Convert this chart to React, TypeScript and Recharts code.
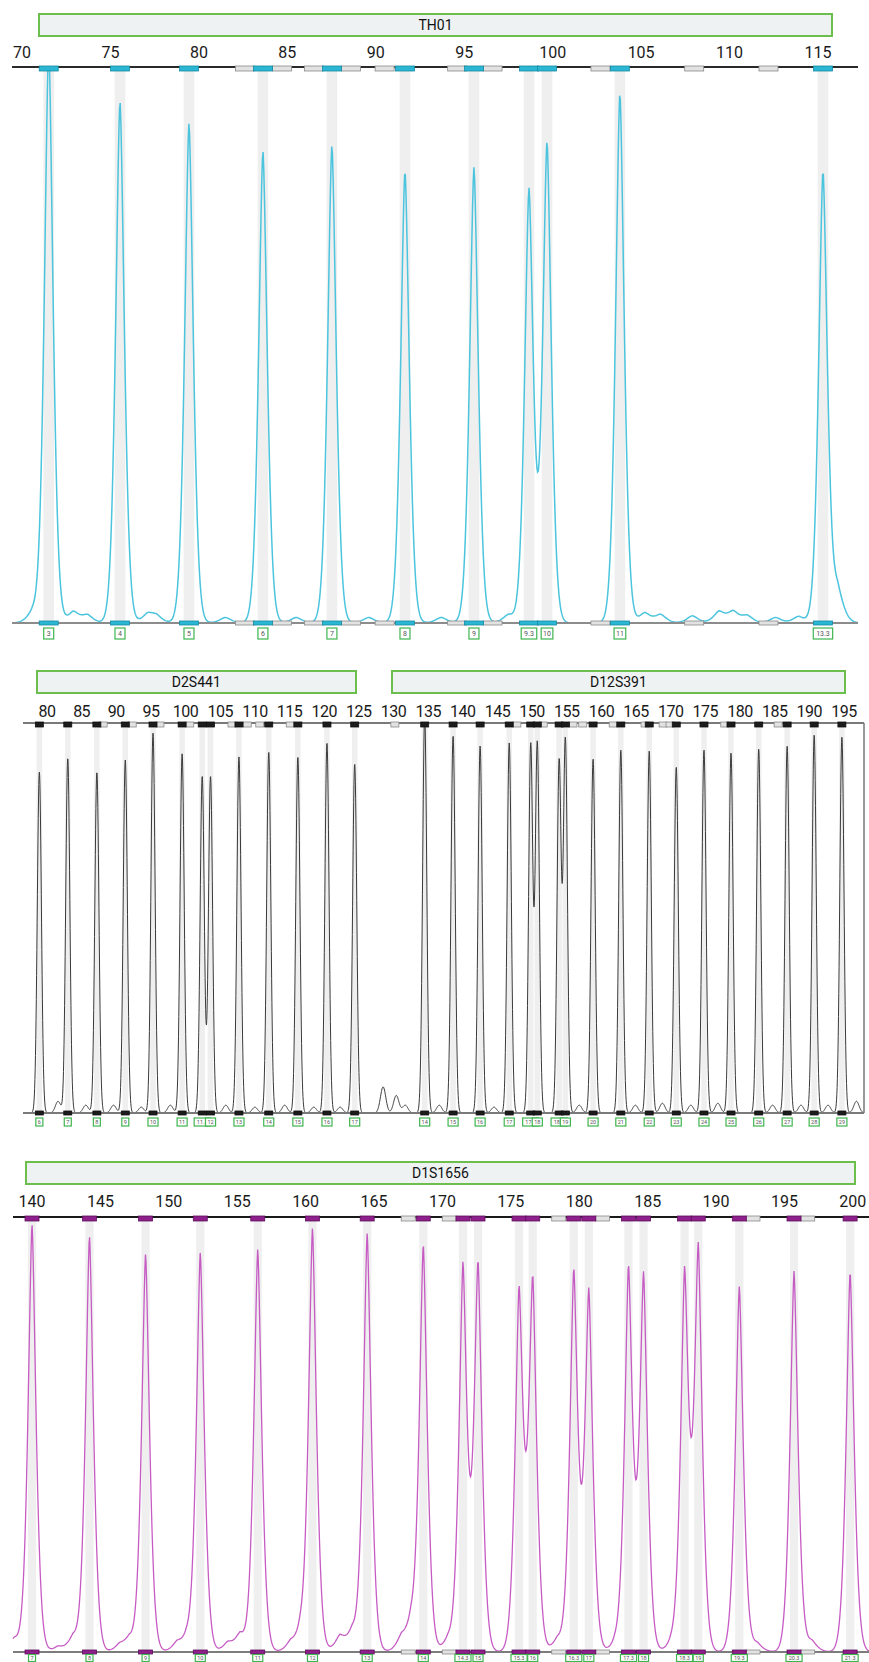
import React from 'react';
import { ComposedChart, Line, XAxis, YAxis, Scatter, ReferenceArea, ReferenceLine } from 'recharts';

// ---------- TH01 (blue dye) ----------
const thTicks = [70, 75, 80, 85, 90, 95, 100, 105, 110, 115];
const thAlleles = ['3', '4', '5', '6', '7', '8', '9', '9.3', '10', '11', '13.3'];
const thSizes = [71.51, 75.54, 79.44, 83.62, 87.52, 91.65, 95.55, 98.66, 99.68, 103.8, 115.28];
const thHeights = [1.04, 0.94, 0.9, 0.85, 0.86, 0.815, 0.82, 0.78, 0.865, 0.955, 0.81];
const thNoiseSizes = [70.6, 72.9, 73.7, 77.1, 77.6, 81.5, 85.5, 89.6, 93.7, 97.5, 105.2, 106.1, 107.9, 109.4, 110.2, 111.0, 112.6, 113.9, 116.1];
const thNoiseHeights = [0.02, 0.02, 0.014, 0.015, 0.012, 0.01, 0.01, 0.01, 0.01, 0.015, 0.018, 0.015, 0.013, 0.02, 0.02, 0.013, 0.01, 0.012, 0.06];
const thVirtualBins = [82.6, 84.7, 86.5, 88.6, 90.5, 94.6, 96.6, 102.7, 108.0, 112.2];
const thMarkerNames = ['TH01'];
const thMarkerRanges = [[70.9, 115.85]];

// ---------- D2S441 / D12S391 (black / yellow dye) ----------
const dTicks = [80, 85, 90, 95, 100, 105, 110, 115, 120, 125, 130, 135, 140, 145, 150, 155, 160, 165, 170, 175, 180, 185, 190, 195];
const dAlleles = ['6', '7', '8', '9', '10', '11', '11.3', '12', '13', '14', '15', '16', '17',
  '14', '15', '16', '17', '17.3', '18', '18.3', '19', '20', '21', '22', '23', '24', '25', '26', '27', '28', '29'];
const dSizes = [78.9, 83.0, 87.2, 91.3, 95.3, 99.5, 102.4, 103.6, 107.7, 112.0, 116.2, 120.4, 124.4,
  134.5, 138.6, 142.5, 146.7, 149.8, 150.75, 153.9, 154.8, 158.8, 162.8, 166.9, 170.8, 174.8, 178.7, 182.7, 186.8, 190.7, 194.7];
const dHeights = [0.874, 0.91, 0.874, 0.905, 0.974, 0.921, 0.864, 0.864, 0.913, 0.926, 0.913, 0.949, 0.895,
  1.02, 0.967, 0.941, 0.949, 0.944, 0.949, 0.9, 0.956, 0.908, 0.931, 0.928, 0.887, 0.931, 0.923, 0.933, 0.941, 0.969, 0.964];
const dNoiseSizes = [81.6, 85.6, 89.6, 93.6, 97.8, 105.8, 110.0, 114.3, 118.5, 122.3, 128.5, 130.4, 131.7, 136.6, 144.5, 156.8, 164.9, 168.8, 172.9, 176.8, 184.7, 188.8, 192.7, 196.8];
const dNoiseHeights = [0.03, 0.02, 0.02, 0.015, 0.02, 0.02, 0.015, 0.02, 0.015, 0.015, 0.067, 0.045, 0.02, 0.02, 0.015, 0.02, 0.02, 0.025, 0.02, 0.025, 0.02, 0.02, 0.02, 0.03];
const dVirtualBins = [88.1, 92.3, 96.3, 100.6, 106.7, 108.9, 110.7, 115.1, 130.2, 147.8, 151.6, 155.9, 157.3, 161.7, 166.3, 168.9, 169.9, 177.8, 185.5];
const dMarkerNames = ['D2S441', 'D12S391'];
const dMarkerRanges = [[78.4, 124.7], [129.6, 195.3]];

// ---------- D1S1656 (magenta dye) ----------
const d1Ticks = [140, 145, 150, 155, 160, 165, 170, 175, 180, 185, 190, 195, 200];
const d1Alleles = ['7', '8', '9', '10', '11', '12', '13', '14', '14.3', '15', '15.3', '16', '16.3', '17', '17.3', '18', '18.3', '19', '19.3', '20.3', '21.3'];
const d1Sizes = [140.0, 144.2, 148.3, 152.3, 156.5, 160.5, 164.5, 168.6, 171.5, 172.6, 175.6, 176.6, 179.6, 180.7, 183.6, 184.7, 187.7, 188.7, 191.7, 195.7, 199.8];
const d1Heights = [0.984, 0.956, 0.915, 0.917, 0.926, 0.97, 0.961, 0.931, 0.883, 0.89, 0.823, 0.848, 0.871, 0.825, 0.878, 0.862, 0.862, 0.92, 0.84, 0.875, 0.875];
const d1NoiseSizes = [138.7, 141.9, 143.0, 146.4, 147.1, 150.6, 151.3, 154.3, 155.2, 158.9, 159.6, 162.5, 163.4, 167.0, 167.7, 170.4, 178.4, 182.6, 186.7, 193.0, 197.0];
const d1NoiseHeights = [0.03, 0.012, 0.035, 0.015, 0.03, 0.02, 0.03, 0.02, 0.04, 0.02, 0.04, 0.035, 0.045, 0.03, 0.06, 0.03, 0.03, 0.02, 0.02, 0.02, 0.025];
const d1VirtualBins = [167.5, 170.5, 178.5, 181.7, 192.7, 196.7];
const d1MarkerNames = ['D1S1656'];
const d1MarkerRanges = [[139.5, 200.2]];

const W = 869;
const FONT = "Roboto, 'Noto Sans', sans-serif";

// sum of peaks exp(-(|x - size| / a)^p) sampled across the axis domain
function buildTrace(domain: number[], sizes: number[], heights: number[], nSizes: number[], nHeights: number[], a: number, p: number) {
  const n = Math.round((domain[1] - domain[0]) / 0.04);
  const pts: { x: number; v: number }[] = [];
  for (let i = 0; i <= n; i++) {
    const x = domain[0] + (i * (domain[1] - domain[0])) / n;
    let v = 0;
    sizes.forEach((s, k) => {
      const d = Math.abs(x - s) / a;
      if (d < 8) v += heights[k] * Math.exp(-Math.pow(d, p));
    });
    nSizes.forEach((s, k) => {
      const d = Math.abs(x - s) / (a * 1.3);
      if (d < 8) v += nHeights[k] * Math.exp(-Math.pow(d, p));
    });
    pts.push({ x, v });
  }
  return pts;
}

interface PanelProps {
  top: number;
  height: number;
  margin: { top: number; right: number; bottom: number; left: number };
  domain: number[];
  ticks: number[];
  tickMargin: number;
  alleles: string[];
  sizes: number[];
  heights: number[];
  noiseSizes: number[];
  noiseHeights: number[];
  virtualBins: number[];
  virtualOnBase: boolean;
  markerNames: string[];
  markerRanges: number[][];
  headerTop: number;
  peakA: number;
  peakP: number;
  color: string;
  strokeWidth: number;
  markFill: string;
  markStroke: string;
  markW: number;
  axisColor: string;
  baseColor: string;
  binHalf: number;
  labelGap: number;
  labelH: number;
  labelFont: number;
  letterSpacing: number;
  rightBorder?: boolean;
}

const Panel: React.FC<PanelProps> = (p) => {
  const trace = buildTrace(p.domain, p.sizes, p.heights, p.noiseSizes, p.noiseHeights, p.peakA, p.peakP);
  const called = p.sizes.map((x, i) => ({ x, y: 0, label: p.alleles[i] }));
  const calledTop = p.sizes.map((x) => ({ x, y: 1 }));
  const virt = p.virtualBins.map((x) => ({ x, y: 1 }));
  const virtBase = p.virtualBins.map((x) => ({ x, y: 0 }));

  const plotW = W - p.margin.left - p.margin.right;
  const toPx = (bp: number) => p.margin.left + ((bp - p.domain[0]) / (p.domain[1] - p.domain[0])) * plotW;

  const topMark = (fill: string, stroke: string) => (s: any) => (
    <rect x={s.cx - p.markW / 2} y={s.cy - 1} width={p.markW} height={5} fill={fill} stroke={stroke} strokeWidth={0.8} />
  );
  const baseMark = (fill: string, stroke: string) => (s: any) => (
    <rect x={s.cx - p.markW / 2} y={s.cy - 2} width={p.markW} height={4} fill={fill} stroke={stroke} strokeWidth={0.8} />
  );
  const alleleLabel = (s: any) => {
    const t = s.payload.label as string;
    const w = Math.max(p.labelH - 1, t.length * p.labelFont * 0.55 + 4);
    const y0 = s.cy + p.labelGap;
    return (
      <g>
        <rect x={s.cx - w / 2} y={y0} width={w} height={p.labelH} fill="#fff" stroke="#3fb54f" strokeWidth={1.2} />
        <text x={s.cx} y={y0 + p.labelH / 2} dy="0.36em" textAnchor="middle" fontSize={p.labelFont} fontFamily={FONT} fill="#555">
          {t}
        </text>
      </g>
    );
  };

  return (
    <div style={{ position: 'absolute', left: 0, top: p.top, width: W, height: p.height }}>
      {p.markerNames.map((name, i) => {
        const x1 = toPx(p.markerRanges[i][0]);
        const x2 = toPx(p.markerRanges[i][1]);
        return (
          <div
            key={name}
            style={{
              position: 'absolute',
              left: x1,
              top: p.headerTop - p.top,
              width: x2 - x1,
              height: 24,
              boxSizing: 'border-box',
              border: '2px solid #6cbf4c',
              background: '#eef2f2',
              display: 'flex',
              alignItems: 'center',
              justifyContent: 'center',
              fontFamily: FONT,
              fontSize: 14,
              color: '#111',
            }}
          >
            {name}
          </div>
        );
      })}
      <ComposedChart width={W} height={p.height} data={trace} margin={p.margin}>
        <XAxis
          xAxisId={0}
          dataKey="x"
          type="number"
          orientation="top"
          domain={p.domain}
          ticks={p.ticks}
          height={20}
          tickLine={false}
          tickSize={6}
          tickMargin={p.tickMargin}
          axisLine={{ stroke: p.axisColor, strokeWidth: 2 }}
          tick={{ fill: '#1a1a1a', fontSize: 16, fontFamily: FONT, letterSpacing: p.letterSpacing }}
          interval={0}
        />
        <YAxis yAxisId="trace" domain={[0, 1]} allowDataOverflow hide />
        <YAxis yAxisId="marks" domain={[0, 1]} hide />
        {p.sizes.map((s) => (
          <ReferenceArea key={'b' + s} yAxisId="marks" x1={s - p.binHalf} x2={s + p.binHalf} y1={0} y2={1} fill="#ececec" fillOpacity={0.85} stroke="none" />
        ))}
        <Line yAxisId="trace" dataKey="v" type="linear" stroke={p.color} strokeWidth={p.strokeWidth} dot={false} isAnimationActive={false} />
        <ReferenceLine yAxisId="marks" y={0} stroke={p.baseColor} strokeWidth={2} />
        {p.rightBorder && <ReferenceLine yAxisId="marks" x={p.domain[1]} stroke="#777" strokeWidth={1.5} />}
        <Scatter yAxisId="marks" data={virt} dataKey="y" shape={topMark('#e2e2e2', '#8a8a8a')} isAnimationActive={false} />
        {p.virtualOnBase && (
          <Scatter yAxisId="marks" data={virtBase} dataKey="y" shape={baseMark('#e2e2e2', '#8a8a8a')} isAnimationActive={false} />
        )}
        <Scatter yAxisId="marks" data={calledTop} dataKey="y" shape={topMark(p.markFill, p.markStroke)} isAnimationActive={false} />
        <Scatter yAxisId="marks" data={called} dataKey="y" shape={baseMark(p.markFill, p.markStroke)} isAnimationActive={false} />
        <Scatter yAxisId="marks" data={called} dataKey="y" shape={alleleLabel} isAnimationActive={false} />
      </ComposedChart>
    </div>
  );
};

export default function App() {
  return (
    <div style={{ position: 'absolute', left: 0, top: 0, width: W, height: 1662, background: '#fff', overflow: 'hidden' }}>
      <Panel
        top={0}
        height={660}
        margin={{ top: 47, right: 11, bottom: 37, left: 12 }}
        domain={[69.435, 117.26]}
        ticks={thTicks}
        tickMargin={3}
        alleles={thAlleles}
        sizes={thSizes}
        heights={thHeights}
        noiseSizes={thNoiseSizes}
        noiseHeights={thNoiseHeights}
        virtualBins={thVirtualBins}
        virtualOnBase
        markerNames={thMarkerNames}
        markerRanges={thMarkerRanges}
        headerTop={13}
        peakA={0.353}
        peakP={1.6}
        color="#4cc4de"
        strokeWidth={1.5}
        markFill="#2bb7d3"
        markStroke="#168aa4"
        markW={19}
        axisColor="#2a2a2a"
        baseColor="#8c8c8c"
        binHalf={0.3}
        labelGap={5}
        labelH={11}
        labelFont={7}
        letterSpacing={0}
      />
      <Panel
        top={640}
        height={500}
        margin={{ top: 63, right: 5, bottom: 27, left: 23 }}
        domain={[76.54, 197.89]}
        ticks={dTicks}
        tickMargin={0}
        alleles={dAlleles}
        sizes={dSizes}
        heights={dHeights}
        noiseSizes={dNoiseSizes}
        noiseHeights={dNoiseHeights}
        virtualBins={dVirtualBins}
        virtualOnBase={false}
        markerNames={dMarkerNames}
        markerRanges={dMarkerRanges}
        headerTop={670}
        peakA={0.42}
        peakP={2}
        color="#3a3a3a"
        strokeWidth={1}
        markFill="#1c1c1c"
        markStroke="#111"
        markW={8}
        axisColor="#7a7a7a"
        baseColor="#7a7a7a"
        binHalf={0.4}
        labelGap={5}
        labelH={8}
        labelFont={5.5}
        letterSpacing={-0.5}
        rightBorder
      />
      <Panel
        top={1140}
        height={522}
        margin={{ top: 57, right: 0, bottom: 10, left: 13 }}
        domain={[138.61, 201.18]}
        ticks={d1Ticks}
        tickMargin={4}
        alleles={d1Alleles}
        sizes={d1Sizes}
        heights={d1Heights}
        noiseSizes={d1NoiseSizes}
        noiseHeights={d1NoiseHeights}
        virtualBins={d1VirtualBins}
        virtualOnBase
        markerNames={d1MarkerNames}
        markerRanges={d1MarkerRanges}
        headerTop={1161}
        peakA={0.423}
        peakP={1.5}
        color="#c65bc4"
        strokeWidth={1.3}
        markFill="#8e1f8b"
        markStroke="#5e0f5c"
        markW={14}
        axisColor="#1a1a1a"
        baseColor="#7c7c7c"
        binHalf={0.3}
        labelGap={2.5}
        labelH={7}
        labelFont={5.5}
        letterSpacing={0}
      />
    </div>
  );
}
